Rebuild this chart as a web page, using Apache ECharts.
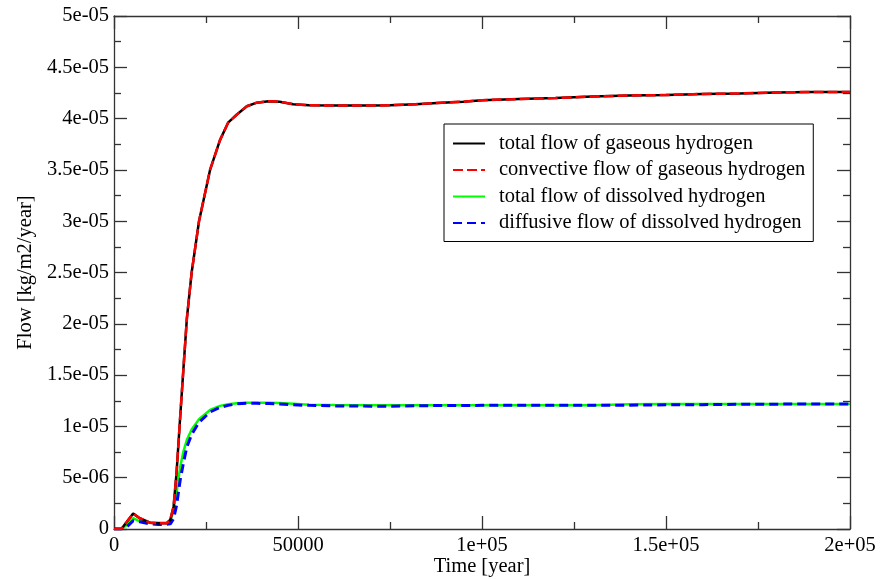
<!DOCTYPE html>
<html>
<head>
<meta charset="utf-8">
<script src="https://cdn.jsdelivr.net/npm/echarts@6.0.0/dist/echarts.min.js"></script>
<style>
  html, body { margin: 0; padding: 0; background: #fff; }
  #flow-chart { width: 888px; height: 579px; }
</style>
</head>
<body>
<div id="flow-chart"></div>
<script>
// time axis [year]
var time = [0, 2000, 3500, 5200, 7000, 9800, 12000, 14300, 15300, 16200, 17000, 18000, 18900, 19800,
  21100, 23100, 26100, 28800, 31000, 33400, 36100, 38800, 42000, 45000, 48700, 53000, 60000, 70000,
  75000, 82000, 89000, 95000, 100000, 110000, 120000, 130000, 140000, 150000, 160000, 170000,
  180000, 190000, 200000];

// flows [kg/m2/year]
var gasTotal = [0, 0, 0.7e-6, 1.5e-6, 1.05e-6, 0.62e-6, 0.55e-6, 0.55e-6, 0.9e-6, 2.2e-6, 5.5e-6, 11.0e-6,
  15.8e-6, 20.5e-6, 25.0e-6, 30.0e-6, 35.0e-6, 37.9e-6, 39.6e-6, 40.4e-6, 41.2e-6, 41.55e-6, 41.7e-6,
  41.65e-6, 41.4e-6, 41.3e-6, 41.28e-6, 41.28e-6, 41.3e-6, 41.4e-6, 41.55e-6, 41.65e-6, 41.8e-6,
  41.9e-6, 42.0e-6, 42.15e-6, 42.25e-6, 42.3e-6, 42.4e-6, 42.45e-6, 42.55e-6, 42.6e-6, 42.6e-6];
var gasConvective = [0, 0, 0.7e-6, 1.5e-6, 1.05e-6, 0.62e-6, 0.55e-6, 0.55e-6, 0.9e-6, 2.2e-6, 5.5e-6, 11.0e-6,
  15.8e-6, 20.5e-6, 25.0e-6, 30.0e-6, 35.0e-6, 37.9e-6, 39.6e-6, 40.4e-6, 41.2e-6, 41.55e-6, 41.7e-6,
  41.65e-6, 41.4e-6, 41.3e-6, 41.28e-6, 41.28e-6, 41.3e-6, 41.4e-6, 41.55e-6, 41.65e-6, 41.8e-6,
  41.9e-6, 42.0e-6, 42.15e-6, 42.25e-6, 42.3e-6, 42.4e-6, 42.45e-6, 42.55e-6, 42.6e-6, 42.6e-6];
var dissTotal = [0, 0, 0.4e-6, 1.05e-6, 0.75e-6, 0.62e-6, 0.62e-6, 0.62e-6, 0.75e-6, 1.9e-6, 3.5e-6, 6.1e-6,
  7.6e-6, 8.7e-6, 9.7e-6, 10.7e-6, 11.6e-6, 12.0e-6, 12.15e-6, 12.25e-6, 12.3e-6, 12.3e-6, 12.3e-6,
  12.28e-6, 12.2e-6, 12.1e-6, 12.08e-6, 12.06e-6, 12.05e-6, 12.05e-6, 12.05e-6, 12.05e-6, 12.05e-6,
  12.05e-6, 12.05e-6, 12.05e-6, 12.15e-6, 12.18e-6, 12.18e-6, 12.18e-6, 12.18e-6, 12.18e-6, 12.18e-6];
var dissDiffusive = [0, 0, 0.2e-6, 0.8e-6, 0.7e-6, 0.5e-6, 0.45e-6, 0.45e-6, 0.5e-6, 1.0e-6, 2.3e-6, 4.8e-6,
  6.5e-6, 8.0e-6, 9.2e-6, 10.4e-6, 11.4e-6, 11.85e-6, 12.05e-6, 12.2e-6, 12.25e-6, 12.25e-6, 12.22e-6,
  12.18e-6, 12.1e-6, 12.05e-6, 12.0e-6, 11.97e-6, 11.97e-6, 12.02e-6, 12.03e-6, 12.04e-6, 12.05e-6,
  12.05e-6, 12.05e-6, 12.05e-6, 12.07e-6, 12.1e-6, 12.12e-6, 12.15e-6, 12.17e-6, 12.18e-6, 12.18e-6];

var seriesNames = ['total flow of gaseous hydrogen', 'convective flow of gaseous hydrogen',
  'total flow of dissolved hydrogen', 'diffusive flow of dissolved hydrogen'];

var xTickLabels = ['0', '50000', '1e+05', '1.5e+05', '2e+05'];
var yTickLabels = ['0', '5e-06', '1e-05', '1.5e-05', '2e-05', '2.5e-05', '3e-05', '3.5e-05', '4e-05', '4.5e-05', '5e-05'];

var FONT = '"Liberation Serif", "DejaVu Serif", serif';

function pairs(values){
  return time.map(function(t, i){ return [t, values[i]]; });
}

function makeAxis(kind, pos, withLabels){
  var isX = kind === 'x';
  var labels = isX ? xTickLabels : yTickLabels;
  var step = isX ? 50000 : 5e-6;
  return {
    type: 'value',
    position: pos,
    min: 0,
    max: isX ? 200000 : 5e-5,
    interval: step,
    name: withLabels ? (isX ? 'Time [year]' : 'Flow [kg/m2/year]') : '',
    nameLocation: 'middle',
    nameGap: isX ? 27 : 78,
    nameMoveOverlap: false,
    nameTextStyle: { fontFamily: FONT, fontSize: 20.5, color: '#000' },
    axisLine: { show: true, onZero: false, lineStyle: { color: '#333', width: 1.3 } },
    axisTick: { show: true, inside: true, length: 13, lineStyle: { color: '#333', width: 1.3 } },
    minorTick: { show: true, splitNumber: 2, length: 7, lineStyle: { color: '#333', width: 1.3 } },
    splitLine: { show: false },
    minorSplitLine: { show: false },
    axisLabel: {
      show: withLabels,
      margin: isX ? 6 : 5,
      fontFamily: FONT,
      fontSize: 20.5,
      color: '#000',
      formatter: function(v){
        var idx = Math.round(v / step);
        return labels[idx] !== undefined ? labels[idx] : '';
      }
    }
  };
}

var chart = echarts.init(document.getElementById('flow-chart'));

chart.setOption({
  animation: false,
  backgroundColor: '#fff',
  grid: { left: 114, right: 38, top: 16, bottom: 50, outerBoundsMode: 'none', containLabel: false },
  legend: {
    left: 444,
    top: 124,
    orient: 'vertical',
    backgroundColor: '#fff',
    borderColor: '#000',
    borderWidth: 1,
    padding: [9, 8, 8, 8],
    itemWidth: 32,
    itemHeight: 14,
    itemGap: 5.5,
    itemStyle: { opacity: 0 },
    data: seriesNames,
    textStyle: { fontFamily: FONT, fontSize: 20.5, color: '#000', lineHeight: 20, padding: [0, 0, 0, 9] }
  },
  xAxis: [makeAxis('x', 'bottom', true), makeAxis('x', 'top', false)],
  yAxis: [makeAxis('y', 'left', true), makeAxis('y', 'right', false)],
  series: [
    {
      name: seriesNames[0], type: 'line', symbol: 'none', z: 3,
      lineStyle: { color: '#000', width: 2.5, type: 'solid' },
      itemStyle: { color: '#000' },
      data: pairs(gasTotal)
    },
    {
      name: seriesNames[1], type: 'line', symbol: 'none', z: 4,
      lineStyle: { color: '#ff0000', width: 2.5, type: [10, 4] },
      itemStyle: { color: '#ff0000' },
      data: pairs(gasConvective)
    },
    {
      name: seriesNames[2], type: 'line', symbol: 'none', z: 1,
      lineStyle: { color: '#00ff00', width: 2.5, type: 'solid' },
      itemStyle: { color: '#00ff00' },
      data: pairs(dissTotal)
    },
    {
      name: seriesNames[3], type: 'line', symbol: 'none', z: 2,
      lineStyle: { color: '#0000ff', width: 3, type: [9, 5] },
      itemStyle: { color: '#0000ff' },
      data: pairs(dissDiffusive)
    }
  ]
});
</script>
</body>
</html>
